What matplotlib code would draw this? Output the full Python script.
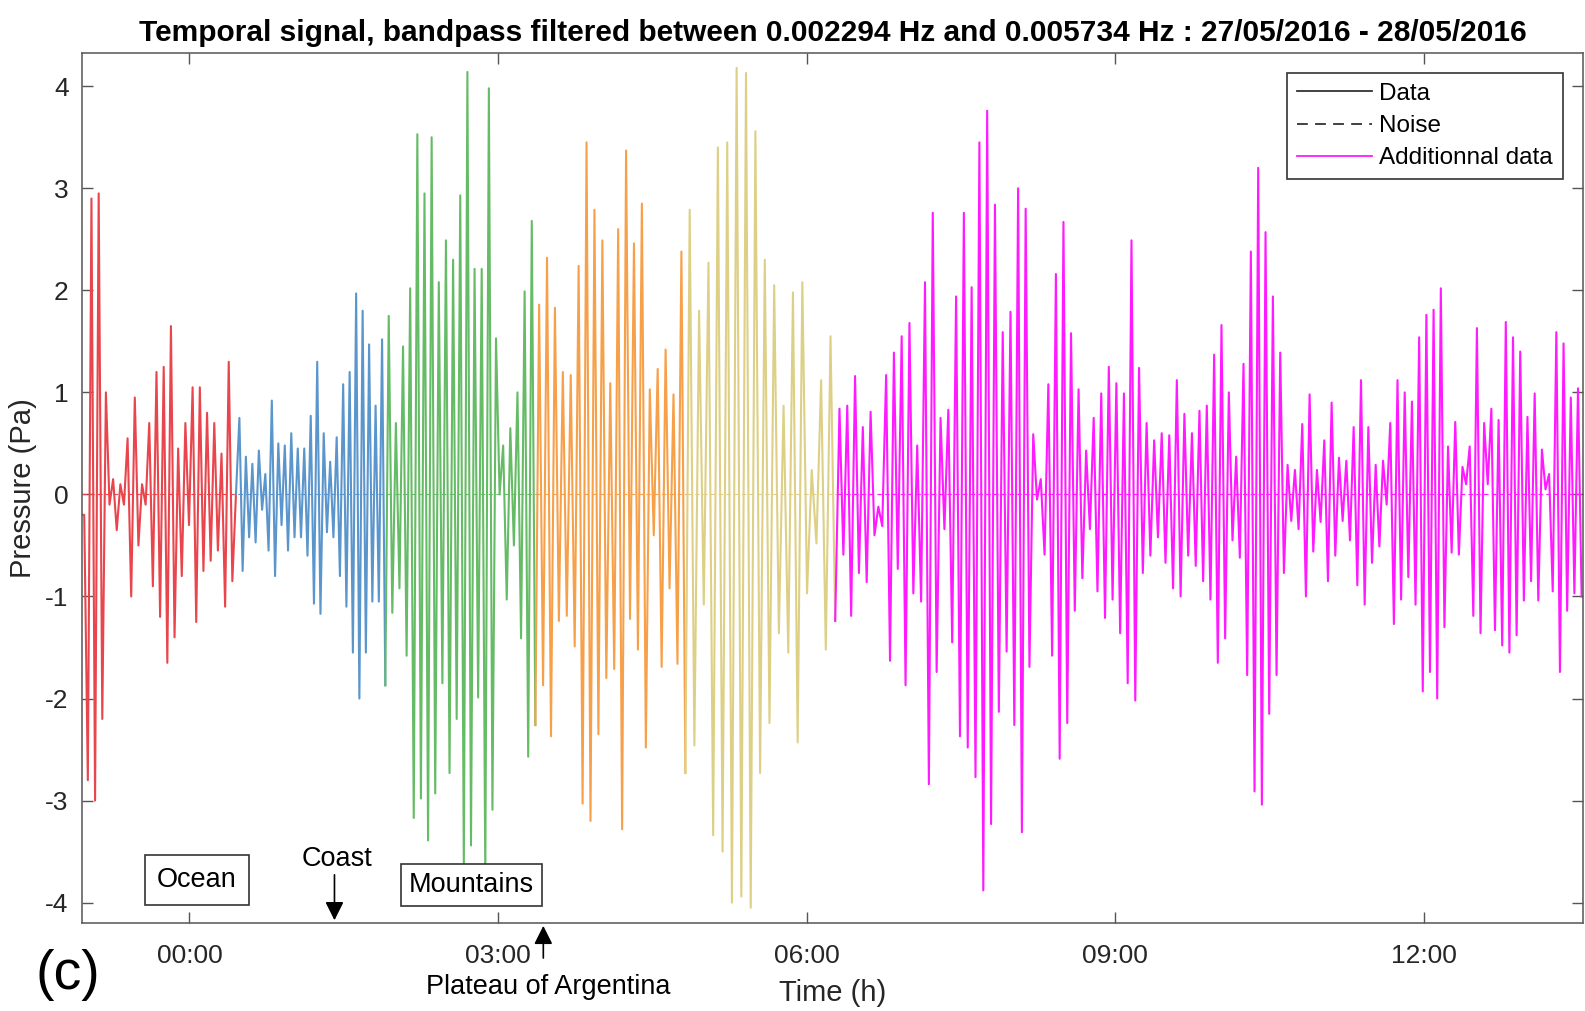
import numpy as np
import matplotlib.pyplot as plt
from matplotlib.lines import Line2D

plt.rcParams['font.family'] = ['Liberation Sans', 'DejaVu Sans']

# time bounds (hours) of each coloured segment, and the successive extrema (Pa)
red_bounds = [-1.04, 0.47]
red_peaks = [-0.2, -2.8, 2.9, -3.0, 2.95, -2.2, 1.0, -0.1, 0.15, -0.35, 0.1, -0.1, 0.55, -1.0, 0.95, -0.5,
             0.1, -0.1, 0.7, -0.9, 1.2, -1.2, 1.25, -1.65, 1.65, -1.4, 0.45, -0.8, 0.7, -0.3, 1.05, -1.25,
             1.05, -0.75, 0.8, -0.65, 0.7, -0.55, 0.4, -1.1, 1.3, -0.85, 0.0]

blue_bounds = [0.47, 1.92]
blue_peaks = [0.75, -0.75, 0.37, -0.42, 0.3, -0.47, 0.43, -0.15, 0.2, -0.55, 0.92, -0.8, 0.5, -0.3, 0.48,
              -0.55, 0.6, -0.42, 0.45, -0.42, 0.45, -0.6, 0.77, -1.07, 1.3, -1.17, 0.6, -0.37, 0.32, -0.42,
              0.56, -0.8, 1.08, -1.1, 1.2, -1.55, 1.97, -2.0, 1.8, -1.55, 1.47, -1.05, 0.87, -1.05, 1.52, -1.87]

green_bounds = [1.92, 3.38]
green_peaks = [1.75, -1.16, 0.7, -0.92, 1.45, -1.58, 2.02, -3.17, 3.53, -2.98, 2.95, -3.39, 3.5, -2.93, 2.08,
               -1.85, 2.49, -2.73, 2.3, -2.2, 2.93, -3.66, 4.14, -3.44, 2.21, -1.99, 2.21, -3.75, 3.98, -3.09,
               1.53, 0.0, 0.48, -1.03, 0.65, -0.5, 1.0, -1.41, 1.99, -2.57, 2.68, -2.26]

orange_bounds = [3.38, 4.84]
orange_peaks = [1.86, -1.87, 2.32, -2.37, 1.83, -1.24, 1.2, -1.19, 1.17, -1.49, 2.24, -3.03, 3.45, -3.2, 2.79,
                -2.35, 2.49, -1.8, 1.09, -1.71, 2.6, -3.28, 3.37, -1.22, 2.46, -1.52, 2.85, -2.48, 1.03, -0.4,
                1.23, -1.69, 1.42, -0.92, 0.98, -1.66, 2.38, -2.73]

khaki_bounds = [4.84, 6.30]
khaki_peaks = [2.79, -2.46, 1.8, -1.08, 2.27, -3.34, 3.4, -3.5, 3.45, -4.0, 4.18, -3.94, 4.13, -4.05, 3.56,
               -2.73, 2.3, -2.24, 2.05, -1.36, 0.87, -1.55, 1.98, -2.43, 2.08, -0.97, 0.24, -0.48, 1.12, -1.52,
               1.55, -1.24]

# additional data, in four chunks
magenta_bounds = [6.30, 8.0, 9.8, 11.62, 13.55]
magenta_peaks_a = [0.84, -0.59, 0.87, -1.19, 1.16, -0.77, 0.66, -0.86, 0.81, -0.4, -0.12, -0.31, 1.17, -1.63,
                   1.39, -0.73, 1.55, -1.87, 1.68, -0.97, 0.48, -1.05, 2.08, -2.84, 2.76, -1.74, 0.75, -0.34,
                   0.83, -1.45, 1.94, -2.37, 2.76, -2.48, 2.03, -2.77, 3.45, -3.88, 3.76, -3.23, 2.84, -2.13,
                   1.59, -1.54, 1.79]
magenta_peaks_b = [-2.26, 3.0, -3.31, 2.8, -1.69, 0.59, -0.05, 0.15, -0.59, 1.08, -1.58, 2.16, -2.59, 2.67,
                   -2.24, 1.58, -1.14, 1.03, -0.82, 0.43, -0.34, 0.75, -0.95, 0.99, -1.21, 1.25, -1.03, 1.09,
                   -1.36, 0.99, -1.85, 2.49, -2.02, 1.24, -0.77, 0.7, -0.6, 0.53, -0.42, 0.6, -0.67, 0.58,
                   -0.92, 1.12, -1.0, 0.79, -0.6, 0.6, -0.7]
magenta_peaks_c = [0.82, -0.85, 0.87, -1.03, 1.37, -1.65, 1.66, -1.41, 1.0, -0.45, 0.37, -0.62, 1.28, -1.77,
                   2.38, -2.91, 3.2, -3.04, 2.57, -2.15, 1.94, -1.77, 1.39, -0.77, 0.29, -0.26, 0.24, -0.34,
                   0.69, -1.0, 0.98, -0.56, 0.24, -0.27, 0.53, -0.85, 0.9, -0.6, 0.36, -0.26, 0.33, -0.45,
                   0.66, -0.89, 1.12, -1.08, 0.66, -0.67, 0.29, -0.51, 0.33]
magenta_peaks_d = [-0.1, 0.7, -1.27, 1.12, -1.03, 1.0, -0.81, 0.91, -1.08, 1.54, -1.93, 1.76, -1.74, 1.81,
                   -2.0, 2.02, -1.3, 0.47, -0.57, 0.71, -0.59, 0.27, 0.1, 0.47, -1.19, 1.63, -1.36, 0.7, 0.1,
                   0.84, -1.33, 0.73, -1.48, 1.69, -1.55, 1.54, -1.38, 1.4, -1.04, 0.76, -0.85, 0.99, -1.04,
                   0.44, 0.05, 0.2, -0.95, 1.59, -1.74, 1.48, -1.14, 0.95, -0.97, 1.04, -1.0]

seg_colors = ['#e8454c', '#5a95cc', '#66bb66', '#f7a04a', '#ddd086']
tick_hours = [0, 3, 6, 9, 12]
tick_labels = ['00:00', '03:00', '06:00', '09:00', '12:00']
yticks = [-4, -3, -2, -1, 0, 1, 2, 3, 4]


def times_for(bounds, peaks):
    n = len(peaks)
    step = (bounds[1] - bounds[0]) / n
    return bounds[0] + (np.arange(n) + 0.5) * step


fig = plt.figure(figsize=(15.85, 10.11), dpi=100)
ax = fig.add_axes([0.052, 0.087, 0.947, 0.861])

segments = [(red_bounds, red_peaks), (blue_bounds, blue_peaks), (green_bounds, green_peaks),
            (orange_bounds, orange_peaks), (khaki_bounds, khaki_peaks)]

prev_t, prev_v = None, None
for (bounds, peaks), col in zip(segments, seg_colors):
    t = times_for(bounds, peaks)
    v = np.array(peaks)
    if prev_t is None:
        t = np.concatenate([[bounds[0]], t])
        v = np.concatenate([[peaks[0]], v])
    else:
        t = np.concatenate([[prev_t], t])
        v = np.concatenate([[prev_v], v])
    ax.plot(t, v, color=col, lw=1.5, solid_joinstyle='round')
    # noise (dashed, close to zero)
    ax.plot(bounds, [0, 0], color=col, lw=0.8, ls=(0, (4, 3)))
    prev_t, prev_v = t[-1], v[-1]

mag_t = [prev_t]
mag_v = [prev_v]
for i, pk in enumerate([magenta_peaks_a, magenta_peaks_b, magenta_peaks_c, magenta_peaks_d]):
    mag_t.extend(times_for(magenta_bounds[i:i + 2], pk))
    mag_v.extend(pk)
ax.plot(mag_t, mag_v, color='#ff1aff', lw=1.5, solid_joinstyle='round')
ax.plot([magenta_bounds[0], magenta_bounds[-1]], [0, 0], color='#ff1aff', lw=0.8, ls=(0, (4, 3)))

ax.set_xlim(-1.04, 13.55)
ax.set_ylim(-4.2, 4.33)
ax.set_xticks(tick_hours)
ax.set_xticklabels(tick_labels)
ax.set_yticks(yticks)
ax.set_yticklabels([str(y) for y in yticks])
ax.tick_params(axis='both', direction='in', length=8, width=1, colors='#555555', labelcolor='#262626',
               labelsize=19, top=True, right=True)
ax.tick_params(axis='x', pad=15)
ax.tick_params(axis='y', pad=10)
for s in ax.spines.values():
    s.set_color('#555555')
    s.set_linewidth(1.1)

ax.set_title('Temporal signal, bandpass filtered between 0.002294 Hz and 0.005734 Hz : 27/05/2016 - 28/05/2016',
             fontsize=21.5, fontweight='bold', pad=8)
ax.set_xlabel('Time (h)', fontsize=21, labelpad=8, color='#262626')
ax.set_ylabel('Pressure (Pa)', fontsize=21, labelpad=6, color='#262626')

handles = [Line2D([], [], color='#333333', lw=1.3),
           Line2D([], [], color='#333333', lw=1.3, ls=(0, (6, 4))),
           Line2D([], [], color='#ff1aff', lw=1.3)]
leg = ax.legend(handles, ['Data', 'Noise', 'Additionnal data'], loc='upper right', fontsize=17.5,
                handlelength=3.1, handletextpad=0.3, labelspacing=0.42, borderaxespad=0.85,
                fancybox=False, framealpha=1, edgecolor='#333333', borderpad=0.4)
leg.get_frame().set_linewidth(1.2)

box = dict(boxstyle='square,pad=0.45', fc='white', ec='#333333', lw=1.2)
ax.text(0.07, -3.78, 'Ocean', ha='center', va='center', fontsize=19.5, bbox=box)
ax.text(2.74, -3.83, 'Mountains', ha='center', va='center', fontsize=19.5,
        bbox=dict(boxstyle='square,pad=0.3', fc='white', ec='#333333', lw=1.2))
ax.text(1.43, -3.57, 'Coast', ha='center', va='center', fontsize=19.5)
ax.annotate('', xy=(1.41, -4.2), xytext=(1.41, -3.7),
            arrowprops=dict(arrowstyle='-|>', color='black', lw=1.2, mutation_scale=28))
ax.annotate('', xy=(3.44, -4.2), xytext=(3.44, -4.57), annotation_clip=False,
            arrowprops=dict(arrowstyle='-|>', color='black', lw=1.2, mutation_scale=28))
ax.text(3.49, -4.83, 'Plateau of Argentina', ha='center', va='center', fontsize=19.5, clip_on=False)

fig.text(0.043, 0.036, '(c)', ha='center', va='center', fontsize=40)

fig.savefig('out.png', dpi=100)
